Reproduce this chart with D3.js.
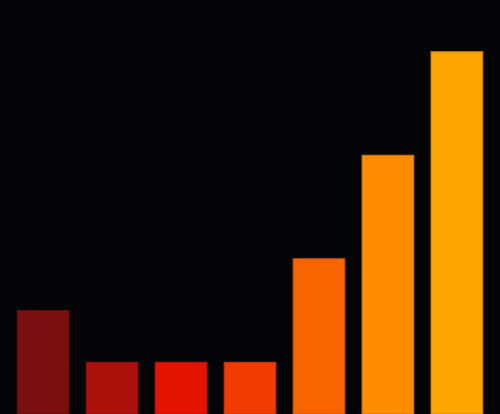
<!DOCTYPE html>
<html>
<head>
<meta charset="utf-8">
<script src="https://cdn.jsdelivr.net/npm/d3@7"></script>
<style>
  html, body { margin: 0; padding: 0; background: #050507; }
  svg { display: block; }
</style>
</head>
<body>
<script>
// --- data ---
var categories = ["a", "b", "c", "d", "e", "f", "g"];
var values = [2, 1, 1, 1, 3, 5, 7];
var colors = ["#7a0f0f", "#ab100a", "#e51400", "#f03c00", "#f86400", "#ff8c00", "#ffa500"];

var w = 500, h = 414;

var svg = d3.select("body").append("svg")
	.attr("width", w)
	.attr("height", h);

svg.append("rect")
	.attr("width", w)
	.attr("height", h)
	.attr("fill", "#050507");

var x = d3.scaleBand()
	.domain(categories)
	.range([0, w])
	.paddingInner(0.25)
	.paddingOuter(0.25);

var y = d3.scaleLinear()
	.domain([0, 8])
	.range([h, 0]);

svg.selectAll("rect.bar")
	.data(values)
	.enter()
	.append("rect")
	.attr("class", "bar")
	.attr("x", function(d, i) { return x(categories[i]); })
	.attr("y", function(d) { return y(d); })
	.attr("width", x.bandwidth())
	.attr("height", function(d) { return h - y(d); })
	.attr("fill", function(d, i) { return colors[i]; })
	.attr("stroke", function(d, i) { return d3.color(colors[i]).darker(0.6); })
	.attr("stroke-width", 1);
</script>
</body>
</html>
